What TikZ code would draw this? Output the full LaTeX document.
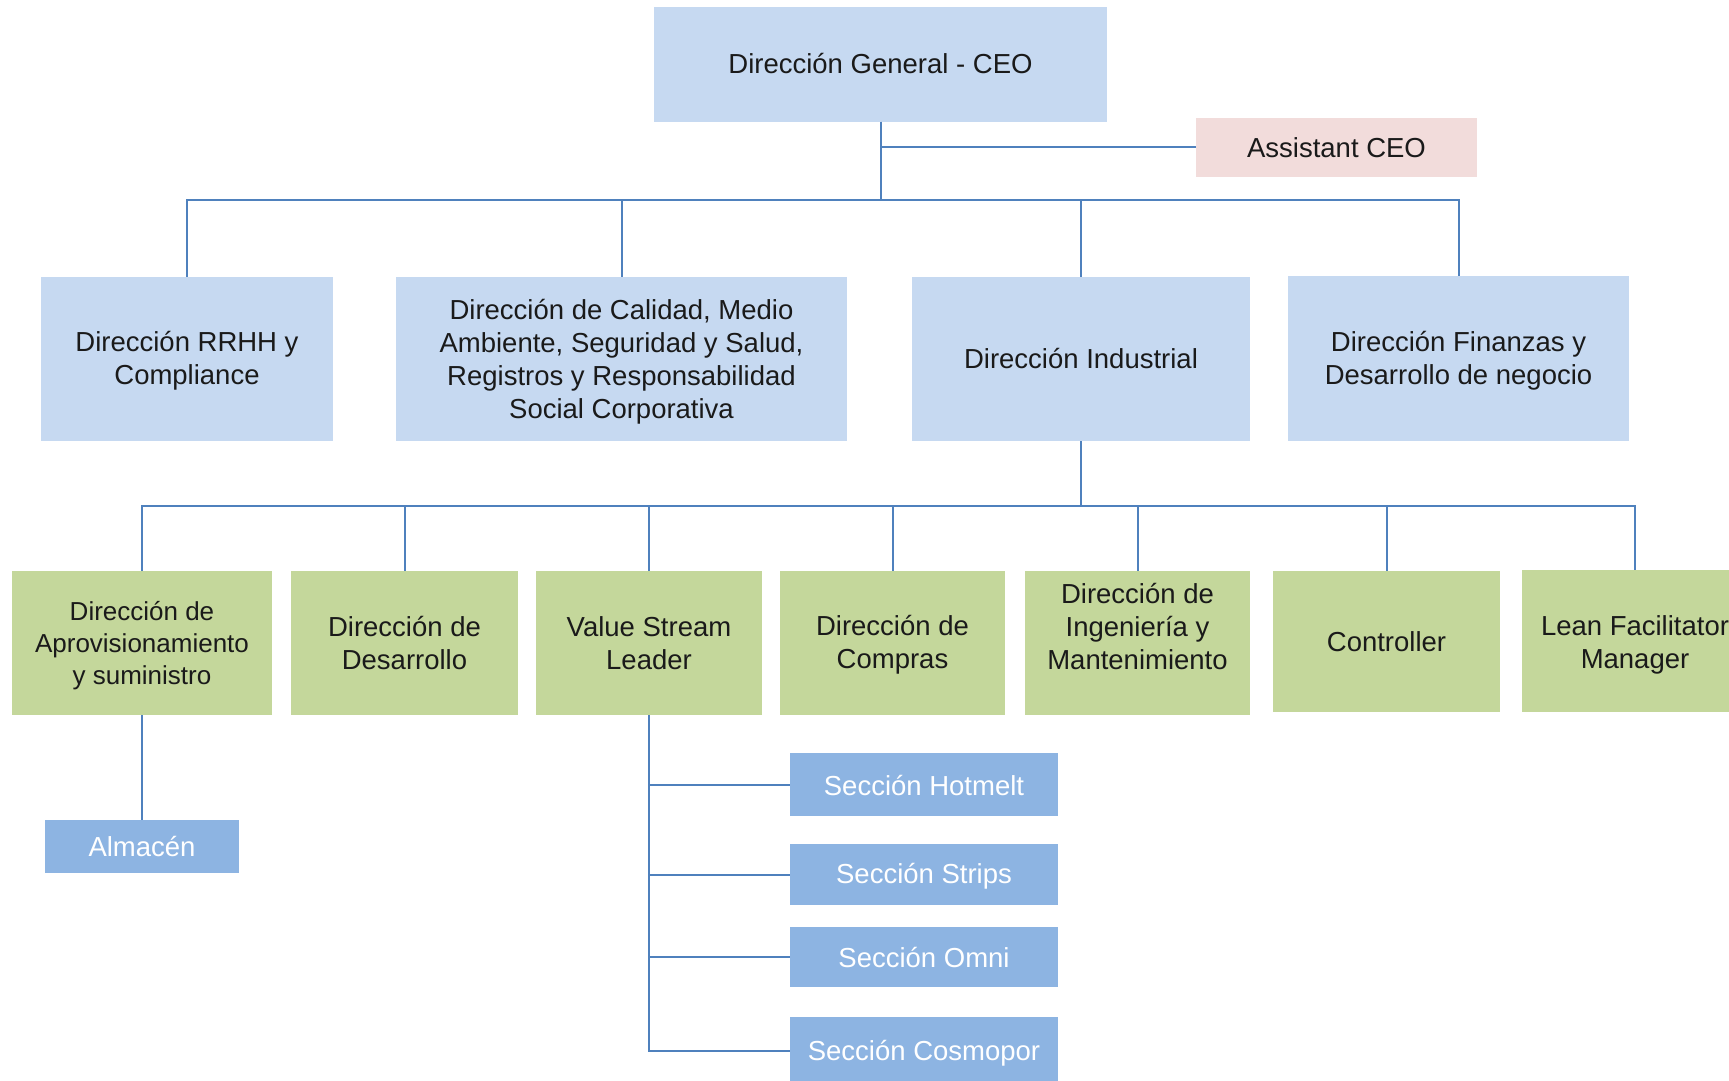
\documentclass[tikz,border=0pt]{standalone}
\usepackage{fontspec}
\setmainfont{Liberation Sans}
\definecolor{lblue}{HTML}{C6D9F1}
\definecolor{lpink}{HTML}{F2DCDB}
\definecolor{lgreen}{HTML}{C4D79B}
\definecolor{mblue}{HTML}{8DB4E2}
\definecolor{linec}{HTML}{4F81BD}
\definecolor{txt}{HTML}{1A1A1A}
% style, name, x1, y1, x2, y2, text-shift (px, down positive), text
\newcommand\obox[8]{%
  \node[#1, minimum width={(#5-#3)*0.5pt}, minimum height={(#6-#4)*0.5pt}] (#2) at ({(#3+#5)/2},{(#4+#6)/2}) {};
  \node[#1, fill=none, tlabel] (#2-t) at ([yshift={-(#7)*0.5pt}]#2.center) {#8};}
\tikzset{
  base/.style={inner sep=0pt, outer sep=0pt, align=center, text=txt, font=\fontsize{13.75}{16.5}\selectfont},
  tlabel/.style={minimum width=0pt, minimum height=0pt},
  topbox/.style={base, fill=lblue},
  asbox/.style={base, fill=lpink},
  grbox/.style={base, fill=lgreen},
  grsmall/.style={grbox, font=\fontsize{13}{16}\selectfont},
  secbox/.style={base, fill=mblue, text=white},
  conn/.style={draw=linec, line width=1pt}
}
\begin{document}
\begin{tikzpicture}[x=0.5pt,y=-0.5pt]
\useasboundingbox (0,0) rectangle (1729,1081);
\clip (0,0) rectangle (1729,1081);
\fill[white] (0,0) rectangle (1729,1081);
% boxes
\obox{topbox}{ceo}{654}{7}{1107}{122}{-1}{Dirección General - CEO}
\obox{asbox}{asst}{1196}{118}{1477}{177}{0}{Assistant CEO}
\obox{topbox}{rrhh}{41}{277}{333}{441}{2}{Dirección RRHH y\\Compliance}
\obox{topbox}{cal}{396}{277}{847}{441}{3}{Dirección de Calidad, Medio\\Ambiente, Seguridad y Salud,\\Registros y Responsabilidad\\Social Corporativa}
\obox{topbox}{ind}{912}{277}{1250}{441}{0}{Dirección Industrial}
\obox{topbox}{fin}{1288}{276}{1629}{441}{2}{Dirección Finanzas y\\Desarrollo de negocio}
\obox{grsmall}{apr}{12}{571}{272}{715}{3}{Dirección de\\Aprovisionamiento\\y suministro}
\obox{grbox}{des}{291}{571}{518}{715}{0}{Dirección de\\Desarrollo}
\obox{grbox}{vsl}{536}{571}{762}{715}{0}{Value Stream\\Leader}
\obox{grbox}{com}{780}{571}{1005}{715}{2}{Dirección de\\Compras}
\obox{grbox}{ing}{1025}{571}{1250}{715}{-16}{Dirección de\\Ingeniería y\\Mantenimiento}
\obox{grbox}{ctr}{1273}{571}{1500}{712}{0}{Controller}
\obox{grbox}{lean}{1522}{570}{1748}{712}{4}{Lean Facilitator\\Manager}
\obox{secbox}{alm}{45}{820}{239}{873}{0}{Almacén}
\obox{secbox}{hot}{790}{753}{1058}{816}{1}{Sección Hotmelt}
\obox{secbox}{str}{790}{844}{1058}{905}{2}{Sección Strips}
\obox{secbox}{omn}{790}{927}{1058}{987}{0}{Sección Omni}
\obox{secbox}{cos}{790}{1017}{1058}{1085}{2}{Sección Cosmopor}
% bus coordinates
\coordinate (busA) at (0,200);
\coordinate (busB) at (0,506);
% connectors level 1
\draw[conn] (asst.west) -- (asst.west -| ceo.south);
\foreach \t in {rrhh,cal,ind,fin}
  \draw[conn] (ceo.south) -- (ceo.south |- busA) -| (\t.north);
% connectors level 2
\foreach \t in {apr,des,vsl,com,ing,ctr,lean}
  \draw[conn] (ind.south) -- (ind.south |- busB) -| (\t.north);
% connectors level 3
\draw[conn] (apr.south) -- (alm.north);
\foreach \t in {hot,str,omn,cos}
  \draw[conn] (vsl.south) |- (\t.west);
\end{tikzpicture}
\end{document}
